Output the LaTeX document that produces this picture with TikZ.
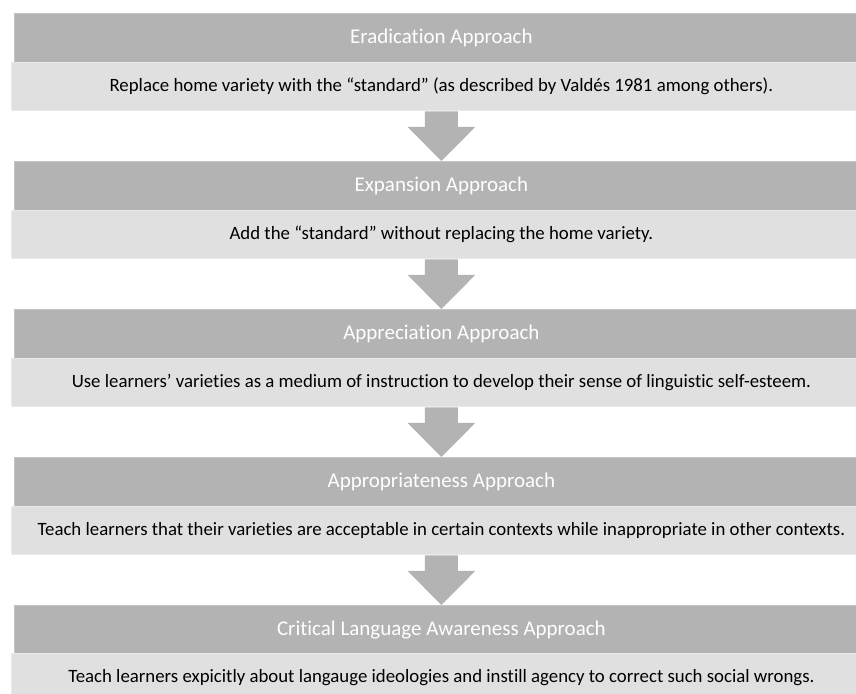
\documentclass[tikz,border=0pt]{standalone}
\usepackage{fontspec}
\setmainfont{Carlito}[Ligatures=NoCommon]
\usetikzlibrary{calc}
\definecolor{hdr}{HTML}{B3B3B3}
\definecolor{hdrline}{HTML}{C6C6C6}
\definecolor{bdy}{HTML}{E0E0E0}
\definecolor{bdyline}{HTML}{EAEAEA}
\definecolor{arr}{HTML}{B3B3B3}
\begin{document}
\begin{tikzpicture}[x=1pt,y=-1pt,
  hdrbox/.style={fill=hdr, draw=hdrline, line width=0.8pt, minimum width=854pt, minimum height=49pt,
    inner sep=0pt, anchor=north west, text=white, font=\fontsize{21}{24}\selectfont},
  bdybox/.style={fill=bdy, draw=bdyline, line width=0.8pt, minimum width=860pt, minimum height=48pt,
    inner sep=0pt, anchor=north west, text=black, font=\fontsize{18.8}{22}\selectfont},
  blockarrow/.style={fill=arr, draw=none}]
\useasboundingbox (0,0) rectangle (856,693);

\node[hdrbox] (h1) at (14,13) {Eradication Approach};
\node[bdybox] (b1) at (11,62) {Replace home variety with the “standard” (as described by Valdés 1981 among others).};
\node[hdrbox] (h2) at (14,161) {Expansion Approach};
\node[bdybox] (b2) at (11,210) {Add the “standard” without replacing the home variety.};
\node[hdrbox] (h3) at (14,309) {Appreciation Approach};
\node[bdybox] (b3) at (11,358) {Use learners’ varieties as a medium of instruction to develop their sense of linguistic self-esteem.};
\node[hdrbox] (h4) at (14,457) {Appropriateness Approach};
\node[bdybox] (b4) at (11,506) {Teach learners that their varieties are acceptable in certain contexts while inappropriate in other contexts.};
\node[hdrbox] (h5) at (14,605) {Critical Language Awareness Approach};
\node[bdybox] (b5) at (11,653) {Teach learners expicitly about langauge ideologies and instill agency to correct such social wrongs.};

\foreach \a/\b in {b1/h2, b2/h3, b3/h4, b4/h5} {
  \coordinate (top) at ($(\a.south)+(0,0.5)$);
  \fill[blockarrow] ($(top)+(-16.5,0)$) -- ($(top)+(16.5,0)$) -- ($(top)+(16.5,15.5)$)
    -- ($(top)+(34,15.5)$) -- (\b.north) -- ($(top)+(-34,15.5)$)
    -- ($(top)+(-16.5,15.5)$) -- cycle;
}
\end{tikzpicture}
\end{document}
